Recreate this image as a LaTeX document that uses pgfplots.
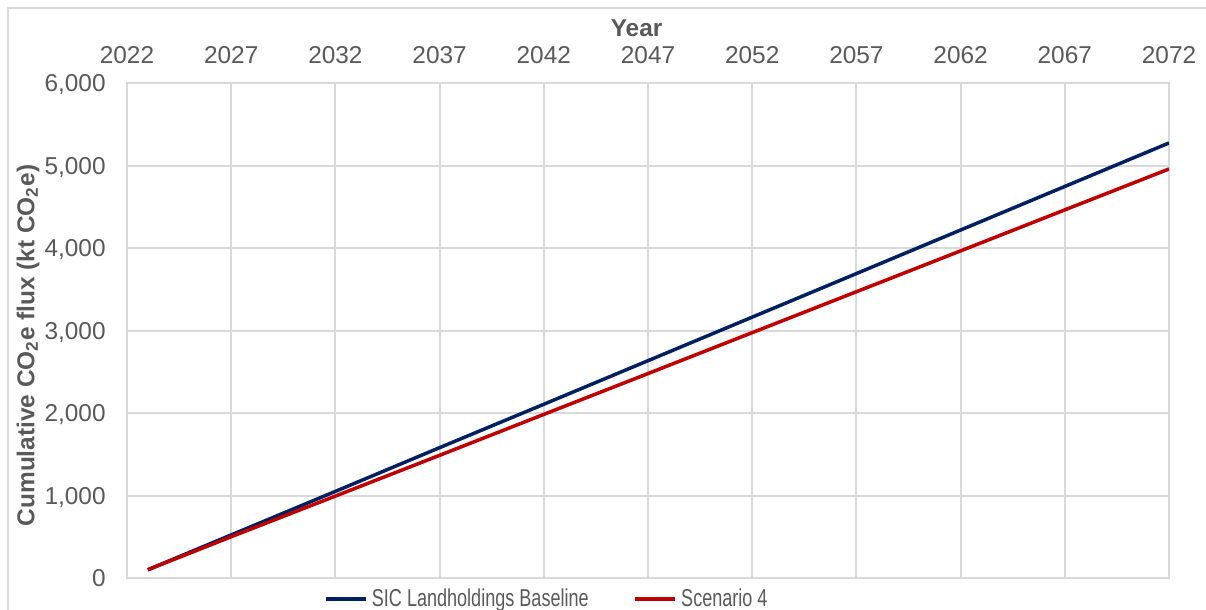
\documentclass[border=0pt]{standalone}
\usepackage{pgfplots}
\pgfplotsset{compat=1.18}
\usepackage{fontspec}
\setmainfont{Liberation Sans}
\definecolor{txt}{HTML}{595959}
\definecolor{grd}{HTML}{D9D9D9}
\definecolor{base}{HTML}{002060}
\definecolor{scen}{HTML}{C00000}
\newcommand{\narrow}[1]{\scalebox{0.74}[1]{#1}}

\begin{document}
\fontsize{12.2}{14.5}\selectfont
\begin{tikzpicture}
\begin{axis}[
    scale only axis, width=521pt, height=247.5pt,
    xmin=2022, xmax=2072, ymin=0, ymax=6000,
    xtick={2022,2027,...,2072}, ytick={0,1000,...,6000},
    xticklabel pos=top,
    grid=major, grid style={grd, line width=1pt},
    axis line style={grd, line width=1pt},
    major tick length=0pt,
    /pgf/number format/assume math mode=true,
    xticklabel style={text=txt, anchor=base, yshift=9.5pt,
        /pgf/number format/1000 sep={}},
    yticklabel style={text=txt, anchor=base east, inner sep=0pt,
        xshift=-10.5pt, yshift=-4.4pt,
        /pgf/number format/1000 sep={,}},
    xlabel={\textbf{Year}},
    xlabel style={text=txt, at={(axis description cs:0.489,1)}, anchor=base, yshift=23.25pt},
    ylabel={\textbf{Cumulative CO\textsubscript{2}e flux (kt CO\textsubscript{2}e)}},
    ylabel style={text=txt, at={(axis description cs:0,0.5)}, anchor=center,
        xshift=-7.5pt, yshift=49.5pt},
    legend style={draw=none, fill=none, at={(axis description cs:0.404,0)}, anchor=center,
        yshift=-10.5pt, legend columns=2, font=\color{txt},
        /tikz/every even column/.append style={column sep=20.5pt},
        nodes={inner xsep=2pt, inner ysep=1pt}},
    legend image code/.code={\draw[#1] (0pt,0pt) -- (20pt,0pt);},
]
\addplot[base, line width=1.75pt] coordinates {
    (2023,100) (2027,522) (2032,1050) (2037,1580) (2042,2106) (2047,2634)
    (2052,3162) (2057,3690) (2062,4218) (2067,4746) (2072,5273)
};
\addlegendentry{\narrow{SIC Landholdings Baseline}}
\addplot[scen, line width=1.75pt] coordinates {
    (2023,100) (2027,500) (2032,993) (2037,1487) (2042,1983) (2047,2478)
    (2052,2974) (2057,3470) (2062,3965) (2067,4462) (2072,4958)
};
\addlegendentry{\narrow{Scenario 4}}
\end{axis}
\draw[grd, line width=1pt] ([shift={(-59.5pt,-40pt)}]current axis.south west)
    rectangle ([shift={(40pt,37.5pt)}]current axis.north east);
\pgfresetboundingbox
\path[use as bounding box] ([shift={(-63.5pt,-15.5pt)}]current axis.south west)
    rectangle ([shift={(18.5pt,41.5pt)}]current axis.north east);
\end{tikzpicture}
\end{document}
